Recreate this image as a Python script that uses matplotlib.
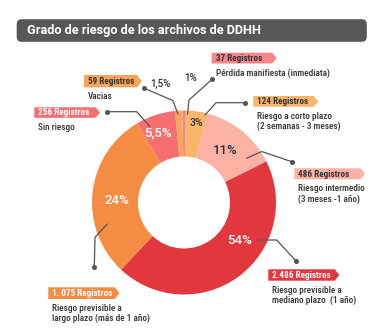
import matplotlib.pyplot as plt
from matplotlib.patches import FancyBboxPatch, Polygon

# data (clockwise from the top of the donut)
registros = ["37 Registros", "124 Registros", "486 Registros", "2.486 Registros",
             "1. 075 Registros", "256 Registros", "59 Registros"]
descripciones = [
    ["Pérdida manifiesta (inmediata)"],
    ["Riesgo a corto plazo", "(2 semanas - 3 meses)"],
    ["Riesgo intermedio", "(3 meses -1 año)"],
    ["Riesgo previsible a", "mediano plazo  (1 año)"],
    ["Riesgo previsible a", "largo plazo (más de 1 año)"],
    ["Sin riesgo"],
    ["Vacias"],
]
pct_labels = ["1%", "3%", "11%", "54%", "24%", "5,5%", "1,5%"]
# wedge sizes as drawn in the infographic (percent of the ring)
wedge_share = [0.6, 3.9, 13.4, 44.3, 29.5, 6.9, 1.3]

colors = ["#f4858a", "#f9b56c", "#fbb2a5", "#e3373e", "#f58c44", "#f56f70", "#f6a55b"]
tag_text_colors = ["#333333", "#333333", "#333333", "white", "white", "white", "#333333"]
pct_colors = ["#333333", "#333333", "#333333", "white", "white", "white", "#333333"]

# layout in pixels (y down)
CX, CY, R = 184, 202.5, 92
tag_boxes = [(211.7, 52.7, 65, 10.8), (253.3, 96, 65, 10.8), (294.3, 168.3, 70.7, 11),
             (268.3, 269.3, 71, 11.4), (48.3, 287.3, 71, 11.7), (34.3, 107.3, 65.7, 10.5),
             (84, 75, 57.7, 12.3)]
pct_pos = [(190.7, 78.3, 7), (196.7, 122.7, 7.5), (225, 150, 9.5), (239.3, 240.7, 9.5),
           (116.7, 200, 9.5), (158.3, 132.7, 9.5), (160, 84.3, 7)]
leaders = [
    [(187.5, 114), (189, 100), (212, 79.3)],
    [(205, 115), (216, 102.7), (245, 102.7)],
    [(246.7, 158.3), (261.7, 151.5), (291.7, 161.7)],
    [(258.3, 240), (276.7, 240), (296, 261)],
    [(107.3, 224), (95, 237.3), (94.3, 266.7)],
    [(150, 126.7), (136.7, 111.7), (107.3, 111.7)],
    [(178, 114), (172.8, 100.5), (144.3, 88.3)],
]

narrow = ["Roboto Condensed", "Roboto", "DejaVu Sans"]

fig = plt.figure(figsize=(3.74, 3.31), dpi=100, facecolor="white")
ax = fig.add_axes([0, 0, 1, 1])

ax.pie(wedge_share, colors=colors, startangle=-91, counterclock=True, radius=R,
       center=(CX, CY), frame=True,
       wedgeprops=dict(width=R / 2, edgecolor="none", linewidth=0, antialiased=True))
ax.set_xlim(0, 374)
ax.set_ylim(331, 0)
ax.axis("off")

# title bar
ax.add_patch(FancyBboxPatch((19.5, 22), 344.5, 17, boxstyle="round,pad=2.8,rounding_size=5",
                            facecolor="#575757", edgecolor="none"))
ax.text(27.5, 30.8, "Grado de riesgo de los archivos de DDHH", color="white",
        fontsize=9.2, fontweight="bold", family="Roboto", va="center", ha="left")

for i in range(len(registros)):
    x, y, w, h = tag_boxes[i]
    pts = [(x, y), (x + w - 4.5, y), (x + w, y + h / 2), (x + w - 4.5, y + h), (x, y + h)]
    ax.add_patch(Polygon(pts, closed=True, facecolor=colors[i], edgecolor="none"))
    ax.text(x + 4, y + h / 2 + 0.3, registros[i], color=tag_text_colors[i], fontsize=6.6,
            fontweight="bold", family=narrow, va="center", ha="left")
    for j, line in enumerate(descripciones[i]):
        ax.text(x + 4, y + h + 9.5 + j * 10, line, color="#333333", fontsize=6.7,
                fontweight="medium", family=narrow, va="center", ha="left")

    px, py, fs = pct_pos[i]
    ax.text(px, py, pct_labels[i], color=pct_colors[i], fontsize=fs, family="Roboto",
            fontweight="medium", ha="center", va="center")

    xs = [p[0] for p in leaders[i]]
    ys = [p[1] for p in leaders[i]]
    ax.plot(xs, ys, color="#555555", linewidth=0.9, solid_capstyle="round")
    ax.plot(xs[-1], ys[-1], "o", color="#555555", markersize=2.6)

fig.savefig("out.png", dpi=100)
